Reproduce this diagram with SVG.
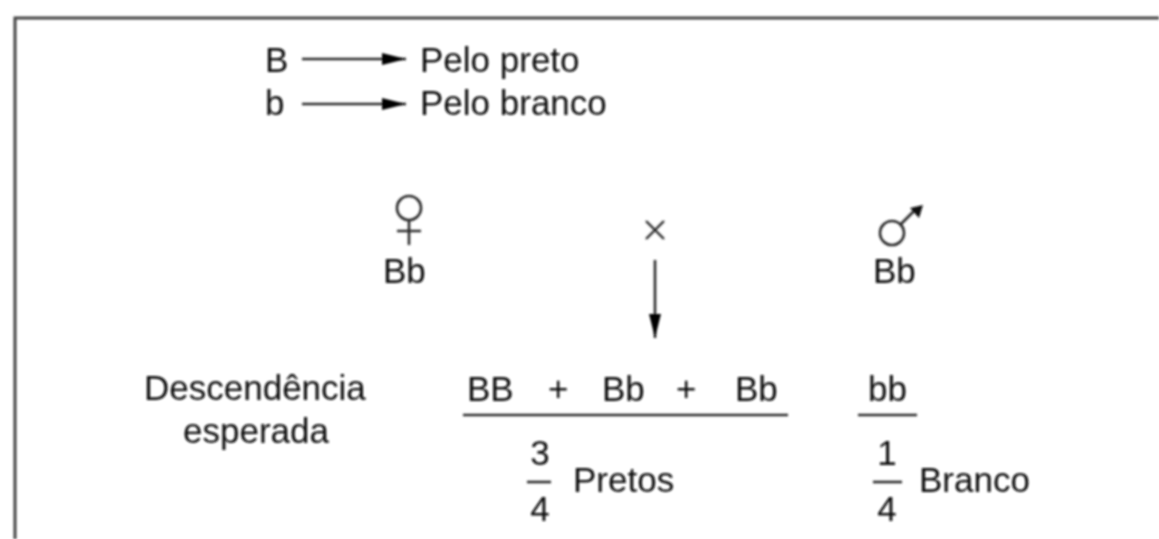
<svg xmlns="http://www.w3.org/2000/svg" width="1159" height="539" viewBox="0 0 1159 539">
<style>
text{font-family:"Liberation Sans",Arial,sans-serif;font-size:35px;fill:#111}
.l{stroke:#2c2c2c;stroke-width:2.6;fill:none}
.c{text-anchor:middle}
</style>
<defs>
<filter id="b" x="-5%" y="-5%" width="110%" height="110%"><feGaussianBlur stdDeviation="0.8"/></filter>
<marker id="a" markerUnits="userSpaceOnUse" markerWidth="26" markerHeight="14" refX="24" refY="6" orient="auto"><path d="M0 0L24 6L0 12Z" fill="#000"/></marker>
</defs>
<rect width="1159" height="539" fill="#fff"/>
<g filter="url(#b)">
<path id="frame" d="M15 539V18H1159" fill="none" stroke="#444" stroke-width="3"/>
<g id="legend">
<text x="265" y="72">B</text><text x="265" y="115">b</text>
<text x="420" y="72">Pelo preto</text><text x="420" y="115">Pelo branco</text>
</g>
<g id="connectors">
<path class="l" d="M302 59H406" marker-end="url(#a)"/>
<path class="l" d="M302 104H406" marker-end="url(#a)"/>
<path class="l" d="M655 260V338" marker-end="url(#a)"/>
</g>
<g id="female">
<circle class="l" cx="409" cy="208" r="12"/>
<path class="l" d="M409 220V245M397 231H421"/>
<text x="383" y="283">Bb</text>
</g>
<g id="cross"><path d="M646 221L664 239M664 221L646 239" stroke="#2c2c2c" stroke-width="2.4" fill="none"/></g>
<g id="male">
<circle class="l" cx="892" cy="233" r="12"/>
<path class="l" d="M901 224L914 211"/><path d="M923 205L919 218L910 208Z" fill="#111"/>
<text x="873" y="283">Bb</text>
</g>
<g id="descendencia">
<text x="144" y="400">Descendência</text><text x="183" y="443">esperada</text>
</g>
<g id="pretos">
<text x="467" y="401">BB</text><text x="548" y="401">+</text><text x="602" y="401">Bb</text><text x="676" y="401">+</text><text x="735" y="401">Bb</text>
<path class="l" d="M463 415H788"/>
<text class="c" x="540" y="465">3</text><path class="l" d="M527 482H551"/><text class="c" x="540" y="521">4</text>
<text x="573" y="492">Pretos</text>
</g>
<g id="branco">
<text x="868" y="401">bb</text>
<path class="l" d="M858 415H917"/>
<text class="c" x="887" y="465">1</text><path class="l" d="M873 482H902"/><text class="c" x="887" y="521">4</text>
<text x="919" y="492">Branco</text>
</g>
</g>
</svg>
